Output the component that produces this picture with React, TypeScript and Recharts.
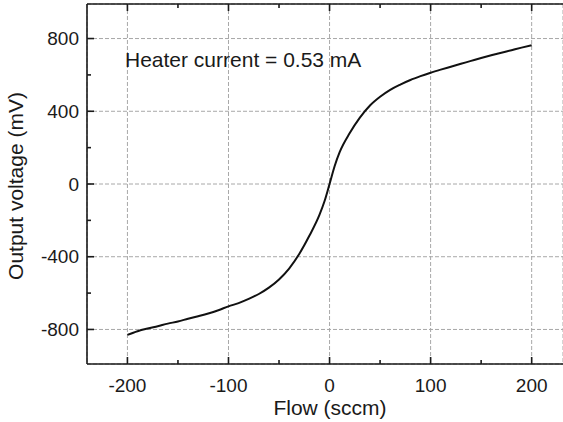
import { CartesianGrid, Line, LineChart, XAxis, YAxis } from "recharts";

const flow = [
  -200, -190, -180, -170, -160, -150, -140, -130, -120, -110, -100, -90, -80, -70, -60, -50, -40, -30, -20,
  -10, -5, 0, 5, 10, 20, 30, 40, 50, 60, 70, 80, 90, 100, 110, 120, 130, 140, 150, 160, 170, 180, 190, 200,
];
const voltage = [
  -830, -810, -795, -782, -768, -756, -741, -727, -712, -694, -673, -655, -632, -605, -570, -525, -465, -385, -285,
  -170, -95, 0, 98, 175, 280, 365, 432, 480, 518, 547, 572, 593, 612, 629, 645, 661, 677, 693, 708, 722, 736, 750,
  763,
];

const xMajor = [-200, -100, 0, 100, 200];
const xMinor = [-150, -50, 50, 150];
const yMajor = [-800, -400, 0, 400, 800];
const yMinor = [-600, -200, 200, 600];

const data = flow.map((f, i) => ({ flow: f, mv: voltage[i] }));
const xAll = [...xMajor, ...xMinor].sort((a, b) => a - b);
const yAll = [...yMajor, ...yMinor].sort((a, b) => a - b);

const font = "'Liberation Sans', Arial, sans-serif";
const ink = "#1a1a1a";
const xDomain = [-240, 231];
const yDomain = [-990, 990];
const MAJOR = 7;
const MINOR = 4;
const GAP_X = 15;
const GAP_Y = 15;

const tickLen = (v: number, major: number[]) => (major.includes(v) ? MAJOR : MINOR);

function BottomTick(props: any) {
  const { x, y, payload } = props;
  const base = y - GAP_X;
  const len = tickLen(payload.value, xMajor);
  return (
    <g>
      <line x1={x} x2={x} y1={base} y2={base - len} stroke={ink} strokeWidth={1.6} />
      {len === MAJOR && (
        <text x={x} y={y} dy="0.71em" textAnchor="middle" fontSize={19} fontFamily={font} fill={ink}>
          {payload.value}
        </text>
      )}
    </g>
  );
}

function TopTick(props: any) {
  const { x, y, payload } = props;
  const base = y + GAP_X;
  const len = tickLen(payload.value, xMajor);
  return <line x1={x} x2={x} y1={base} y2={base + len} stroke={ink} strokeWidth={1.6} />;
}

function LeftTick(props: any) {
  const { x, y, payload } = props;
  const base = x + GAP_Y;
  const len = tickLen(payload.value, yMajor);
  return (
    <g>
      <line x1={base} x2={base + len} y1={y} y2={y} stroke={ink} strokeWidth={1.6} />
      {len === MAJOR && (
        <text x={x + GAP_Y - 8} y={y} dy="0.355em" textAnchor="end" fontSize={19} fontFamily={font} fill={ink}>
          {payload.value}
        </text>
      )}
    </g>
  );
}

const axisLine = { stroke: ink, strokeWidth: 1.6 };

export default function App() {
  return (
    <div style={{ position: "absolute", left: 0, top: 0, width: 563, height: 422, background: "#fff" }}>
      <LineChart width={563} height={422} data={data} margin={{ top: 0, right: 0, bottom: 0, left: 0 }}>
        <XAxis xAxisId="gx" type="number" dataKey="flow" domain={xDomain} allowDataOverflow ticks={xMajor} hide />
        <YAxis yAxisId="gy" type="number" domain={yDomain} allowDataOverflow ticks={yMajor} hide />
        <CartesianGrid xAxisId="gx" yAxisId="gy" stroke="#a8a8a8" strokeDasharray="4 2" strokeWidth={1} />
        <XAxis
          dataKey="flow"
          type="number"
          domain={xDomain}
          allowDataOverflow
          ticks={xAll}
          interval={0}
          height={58}
          tickSize={0}
          tickMargin={GAP_X}
          tickLine={false}
          tick={BottomTick}
          axisLine={axisLine}
        />
        <XAxis
          xAxisId="top"
          orientation="top"
          dataKey="flow"
          type="number"
          domain={xDomain}
          allowDataOverflow
          ticks={xAll}
          interval={0}
          height={4}
          tickSize={0}
          tickMargin={GAP_X}
          tickLine={false}
          tick={TopTick}
          axisLine={axisLine}
        />
        <YAxis
          type="number"
          domain={yDomain}
          allowDataOverflow
          ticks={yAll}
          interval={0}
          width={87}
          tickSize={0}
          tickMargin={GAP_Y}
          tickLine={false}
          tick={LeftTick}
          axisLine={axisLine}
        />
        <Line
          type="monotone"
          dataKey="mv"
          stroke="#111"
          strokeWidth={2}
          dot={false}
          isAnimationActive={false}
        />
        <text x={125} y={66.5} fontSize={21} fontFamily={font} fill={ink}>
          Heater current = 0.53 mA
        </text>
        <text x={330} y={414.5} fontSize={21} fontFamily={font} fill={ink} textAnchor="middle">
          Flow (sccm)
        </text>
        <text
          x={23}
          y={186}
          fontSize={21}
          fontFamily={font}
          fill={ink}
          textAnchor="middle"
          transform="rotate(-90, 23, 186)"
        >
          Output voltage (mV)
        </text>
      </LineChart>
    </div>
  );
}
